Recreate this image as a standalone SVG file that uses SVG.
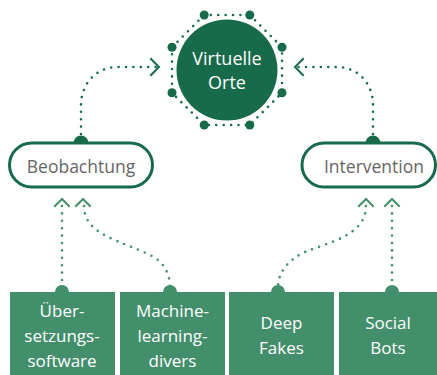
<svg xmlns="http://www.w3.org/2000/svg" width="437" height="375" viewBox="0 0 437 375">
<style>
.dark{fill:#176a4a}
.box{fill:#438f6c}
.pill{fill:#fff;stroke:#176a4a;stroke-width:3}
.dot{fill:none;stroke-linecap:round;stroke-width:2.6;stroke-dasharray:0 7.4}
.dd{stroke:#176a4a}
.ld{stroke:#438f6c}
.chev{fill:none;stroke-width:2;stroke-linecap:square}
.wt{fill:#fff;font-family:"Open Sans","Noto Sans",sans-serif;font-size:17px;text-anchor:middle}
.gt{fill:#666;font-family:"Open Sans","Noto Sans",sans-serif;font-size:17.5px;text-anchor:middle}
</style>
<rect width="437" height="375" fill="#fff"/>
<g id="connectors">
<path class="dot dd" d="M81,134 L81,105 C81,85 95,67 118,67 L156,67"/>
<path class="chev" stroke="#176a4a" d="M151,59 L159,67 L151,75"/>
<path class="dot dd" d="M373,134 L373,105 C373,85 360,67 336,67 L298,67"/>
<path class="chev" stroke="#176a4a" d="M303,59 L295,67 L303,75"/>
<path class="dot ld" d="M62,206 L62,288"/>
<path class="chev" stroke="#438f6c" d="M55,206 L62,199 L69,206"/>
<path class="dot ld" d="M84,206 C84,235 120,240 150,255 C165,262 170,275 170,288"/>
<path class="chev" stroke="#438f6c" d="M76,206 L83,199 L90,206"/>
<path class="dot ld" d="M366,206 C366,235 330,242 305,252 C288,260 278,272 278,288"/>
<path class="chev" stroke="#438f6c" d="M359,206 L366,199 L373,206"/>
<path class="dot ld" d="M392,206 L392,288"/>
<path class="chev" stroke="#438f6c" d="M385,206 L392,199 L399,206"/>
</g>
<g id="virtuelle-orte">
<polygon class="dot dd" stroke-dasharray="0 6.6" points="249.8,15 282,47.2 282,92.8 249.8,125 204.2,125 172,92.8 172,47.2 204.2,15"/>
<g class="dark">
<circle cx="249.8" cy="15" r="4.5"/><circle cx="282" cy="47.2" r="4.5"/><circle cx="282" cy="92.8" r="4.5"/><circle cx="249.8" cy="125" r="4.5"/>
<circle cx="204.2" cy="125" r="4.5"/><circle cx="172" cy="92.8" r="4.5"/><circle cx="172" cy="47.2" r="4.5"/><circle cx="204.2" cy="15" r="4.5"/>
</g>
<circle class="dark" cx="227" cy="70" r="50.5"/>
<text class="wt" x="227" y="65" style="font-size:18px">Virtuelle</text>
<text class="wt" x="227" y="89" style="font-size:18px">Orte</text>
</g>
<g id="beobachtung">
<circle class="dark" cx="81" cy="143" r="7.5"/>
<rect class="pill" x="9.5" y="143" width="143" height="44" rx="22"/>
<text class="gt" x="81" y="172.5">Beobachtung</text>
</g>
<g id="intervention">
<circle class="dark" cx="373" cy="143" r="7.5"/>
<rect class="pill" x="302" y="143" width="133.5" height="44" rx="22"/>
<text class="gt" x="374" y="172.5">Intervention</text>
</g>
<g id="uebersetzungssoftware">
<circle class="box" cx="62" cy="292" r="7"/>
<rect class="box" x="10" y="292" width="105" height="83"/>
<text class="wt" x="62" y="317">Über-</text>
<text class="wt" x="62" y="342">setzungs-</text>
<text class="wt" x="62" y="367">software</text>
</g>
<g id="machine-learning-divers">
<circle class="box" cx="170" cy="292" r="7"/>
<rect class="box" x="120" y="292" width="105" height="83"/>
<text class="wt" x="172.5" y="317">Machine-</text>
<text class="wt" x="172.5" y="342">learning-</text>
<text class="wt" x="172.5" y="367">divers</text>
</g>
<g id="deep-fakes">
<circle class="box" cx="278" cy="292" r="7"/>
<rect class="box" x="229" y="292" width="105" height="83"/>
<text class="wt" x="281.5" y="329">Deep</text>
<text class="wt" x="281.5" y="354">Fakes</text>
</g>
<g id="social-bots">
<circle class="box" cx="392" cy="292" r="7"/>
<rect class="box" x="339" y="292" width="98" height="83"/>
<text class="wt" x="388" y="329">Social</text>
<text class="wt" x="388" y="354">Bots</text>
</g>
</svg>
